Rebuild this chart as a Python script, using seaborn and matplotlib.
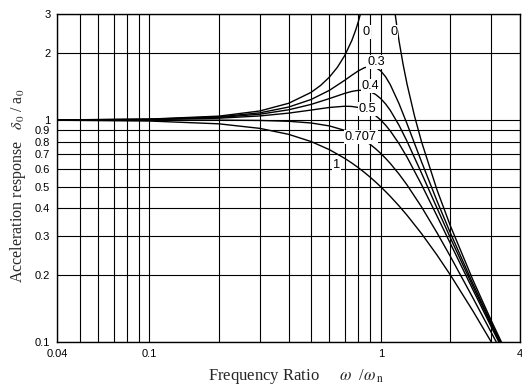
import matplotlib
matplotlib.use("Agg")
import matplotlib.pyplot as plt
import seaborn as sns
import pandas as pd

# ---- data ----
r_common = [0.04, 0.1, 0.2, 0.3, 0.4, 0.5, 0.6, 0.7, 0.75, 0.8, 0.85, 0.9, 0.95,
            1.0, 1.05, 1.1, 1.2, 1.3, 1.5, 1.75, 2.0, 2.5, 3.0, 3.5]

resp_03 = [1.0013, 1.0083, 1.0336, 1.0780, 1.1447, 1.2380, 1.3618, 1.5136, 1.5933,
           1.6667, 1.7224, 1.7469, 1.7293, 1.6667, 1.5667, 1.4438, 1.1851, 0.9603,
           0.6492, 0.4321, 0.3095, 0.1831, 0.1220, 0.0874]
resp_04 = [1.0011, 1.0068, 1.0275, 1.0626, 1.1125, 1.1765, 1.2500, 1.3203, 1.3467,
           1.3618, 1.3616, 1.3429, 1.3051, 1.2500, 1.1817, 1.1053, 0.9469, 0.8012,
           0.5771, 0.4012, 0.2941, 0.1780, 0.1197, 0.0863]
resp_05 = [1.0008, 1.0050, 1.0198, 1.0436, 1.0748, 1.1094, 1.1399, 1.1546, 1.1517,
           1.1399, 1.1184, 1.0871, 1.0471, 1.0000, 0.9479, 0.8930, 0.7824, 0.6795,
           0.5121, 0.3697, 0.2774, 0.1720, 0.1170, 0.0849]
resp_0707 = [1.0000, 1.0000, 0.9992, 0.9960, 0.9874, 0.9701, 0.9409, 0.8980, 0.8716,
             0.8423, 0.8106, 0.7771, 0.7424, 0.7071, 0.6718, 0.6371, 0.5704, 0.5092,
             0.4061, 0.3104, 0.2425, 0.1580, 0.1104, 0.0814]
resp_1 = [0.9984, 0.9901, 0.9615, 0.9174, 0.8621, 0.8000, 0.7353, 0.6711, 0.6400,
          0.6098, 0.5806, 0.5525, 0.5256, 0.5000, 0.4756, 0.4525, 0.4098, 0.3717,
          0.3077, 0.2462, 0.2000, 0.1379, 0.1000, 0.0755]

r0_left = [0.04, 0.1, 0.2, 0.3, 0.4, 0.5, 0.55, 0.6, 0.65, 0.7, 0.75, 0.78, 0.8, 0.82]
resp0_left = [1.0016, 1.0101, 1.0417, 1.0989, 1.1905, 1.3333, 1.4337, 1.5625, 1.7316,
              1.9608, 2.2857, 2.5536, 2.7778, 3.0525]
r0_right = [1.15, 1.18, 1.2, 1.25, 1.3, 1.4, 1.5, 1.75, 2.0, 2.5, 3.0, 3.5]
resp0_right = [3.1008, 2.5484, 2.2727, 1.7778, 1.4493, 1.0417, 0.8000, 0.4848,
               0.3333, 0.1905, 0.1250, 0.0889]

label_text = ["0", "0", "0.3", "0.4", "0.5", "0.707", "1"]
label_x = [0.867, 1.138, 0.955, 0.905, 0.879, 0.819, 0.645]
label_y = [2.50, 2.50, 1.83, 1.42, 1.12, 0.838, 0.626]

xticks_major = [0.04, 0.1, 1, 4]
xtick_labels = ["0.04", "0.1", "1", "4"]
xgrid = [0.05, 0.06, 0.07, 0.08, 0.09, 0.2, 0.3, 0.4, 0.5, 0.6, 0.7, 0.8, 0.9, 2, 3]
yticks = [0.1, 0.2, 0.3, 0.4, 0.5, 0.6, 0.7, 0.8, 0.9, 1, 2, 3]
ytick_labels = ["0.1", "0.2", "0.3", "0.4", "0.5", "0.6", "0.7", "0.8", "0.9", "1", "2", "3"]

# ---- plotting ----
sns.set_theme(style="white")
plt.rcParams["font.family"] = ["Liberation Sans", "DejaVu Sans"]
plt.rcParams["mathtext.fontset"] = "stix"

fig = plt.figure(figsize=(5.22, 3.92), dpi=100)
ax = fig.add_axes([0.1098, 0.1283, 0.9962 - 0.1098, 0.9635 - 0.1283])
ax.set_xscale("log")
ax.set_yscale("log")
ax.set_xlim(0.04, 4)
ax.set_ylim(0.1, 3)

series = [
    (r0_left, resp0_left), (r0_right, resp0_right),
    (r_common, resp_03), (r_common, resp_04), (r_common, resp_05),
    (r_common, resp_0707), (r_common, resp_1),
]
for xs, ys in series:
    df = pd.DataFrame({"r": xs, "a": ys})
    sns.lineplot(data=df, x="r", y="a", ax=ax, color="black", linewidth=1.0,
                 sort=False, estimator=None, zorder=3)

for xv in xgrid + xticks_major:
    ax.axvline(xv, color="black", linewidth=0.8, zorder=1)
for yv in yticks:
    ax.axhline(yv, color="black", linewidth=0.8, zorder=1)

ax.set_xticks(xticks_major)
ax.set_xticklabels(xtick_labels)
ax.set_xticks([], minor=True)
ax.set_yticks(yticks)
ax.set_yticklabels(ytick_labels)
ax.set_yticks([], minor=True)
ax.tick_params(axis="both", which="both", length=0, labelsize=8, colors="black")
ax.tick_params(axis="x", pad=5)
ax.tick_params(axis="y", pad=5)
ax.set_xlabel("")
ax.set_ylabel("")
for s in ax.spines.values():
    s.set_color("black")
    s.set_linewidth(1.0)

for t, xv, yv in zip(label_text, label_x, label_y):
    ax.text(xv, yv, t, fontsize=9.2, ha="center", va="center", color="black", zorder=5,
            bbox=dict(facecolor="white", edgecolor="none", pad=0.6))

fig.text(208 / 522, 1 - 377 / 392,
         "Frequency Ratio     $\\omega$  /$\\omega_{\\,\\rm n}$",
         family=["Liberation Serif"], fontsize=12, ha="left", va="center")
fig.text(18 / 522, 1 - 186 / 392, "Acceleration response   $\\delta_0$ / a$_0$",
         family=["Liberation Serif"], fontsize=11.5, ha="center", va="center",
         rotation=90)

fig.savefig("out.png", dpi=100, facecolor="white")
